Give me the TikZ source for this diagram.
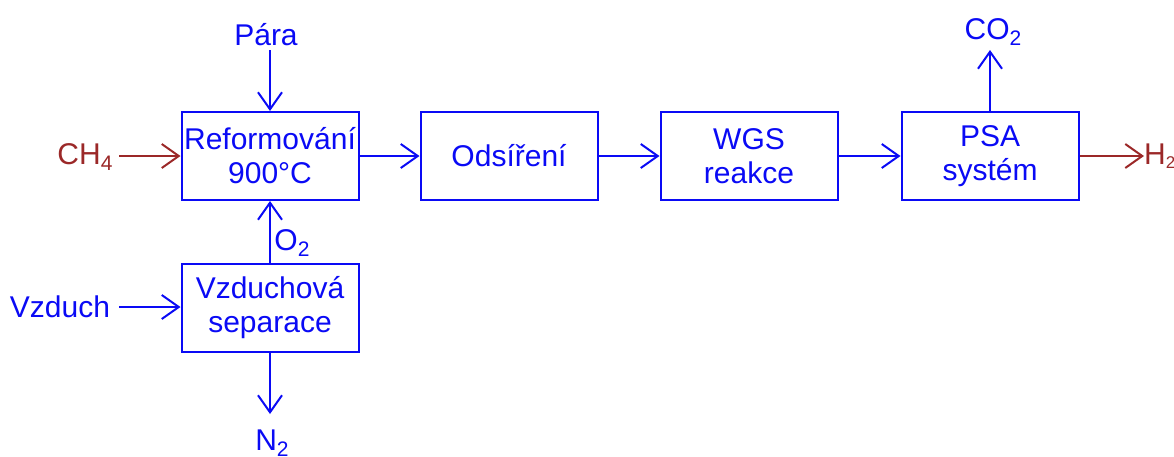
\documentclass[tikz,border=0pt]{standalone}
\usepackage{fontspec}
\setmainfont{Liberation Sans}
\usetikzlibrary{arrows.meta}
\definecolor{cblue}{RGB}{10,10,245}
\definecolor{cred}{RGB}{155,40,40}
\newcommand{\sbs}[1]{{\fontsize{21}{21}\selectfont\raisebox{-0.28em}{#1}}}
\begin{document}
\begin{tikzpicture}[x=1pt,y=-1pt,
  every node/.style={font=\fontsize{30}{34}\selectfont, text=cblue, inner sep=0pt},
  proc/.style={draw=cblue, line width=2pt, minimum width=177pt, minimum height=88pt, align=center},
  flow/.style={draw=cblue, line width=2pt, -{Straight Barb[length=17pt,width=24pt,line width=2pt]}},
  rflow/.style={flow, draw=cred},
  lbl/.style={text=cblue},
  rlbl/.style={text=cred}]
\useasboundingbox (0,0) rectangle (1174,456);
\node[proc] (ref) at (270,156) {Reformování\\900°C};
\node[proc] (ods) at (509,156) {Odsíření};
\node[proc] (wgs) at (749,156) {WGS\\reakce};
\node[proc] (psa) at (990,156) {PSA\\systém};
\node[proc] (vzd) at (270,308) {Vzduchová\\separace};
\node[lbl] (para) at (266,35) {Pára};
\node[rlbl] (ch4) at (85,157) {CH\sbs{4}};
\node[lbl] (vzduch) at (60,307) {Vzduch};
\node[lbl] (n2) at (272,443) {N\sbs{2}};
\node[lbl] (o2) at (292,243) {O\sbs{2}};
\node[lbl] (co2) at (993,32) {CO\sbs{2}};
\node[rlbl, anchor=west] (h2) at (1144,156) {H{\fontsize{17}{17}\selectfont\raisebox{-0.2em}{2}}};
\coordinate (paraS) at (270,50);
\coordinate (ch4E) at (119,156);
\coordinate (vzdE) at (119,307);
\coordinate (n2N) at (270,414);
\coordinate (co2S) at (990,50);
\coordinate (h2W) at (1144,156);
\draw[flow] (paraS) -- (ref.north);
\draw[rflow] (ch4E) -- (ref.west);
\draw[flow] (ref.east) -- (ods.west);
\draw[flow] (ods.east) -- (wgs.west);
\draw[flow] (wgs.east) -- (psa.west);
\draw[rflow] (psa.east) -- (h2W);
\draw[flow] (psa.north) -- (co2S);
\draw[flow] (vzd.north) -- (ref.south);
\draw[flow] (vzdE) -- (vzd.west |- vzdE);
\draw[flow] (vzd.south) -- (n2N);
\end{tikzpicture}
\end{document}
